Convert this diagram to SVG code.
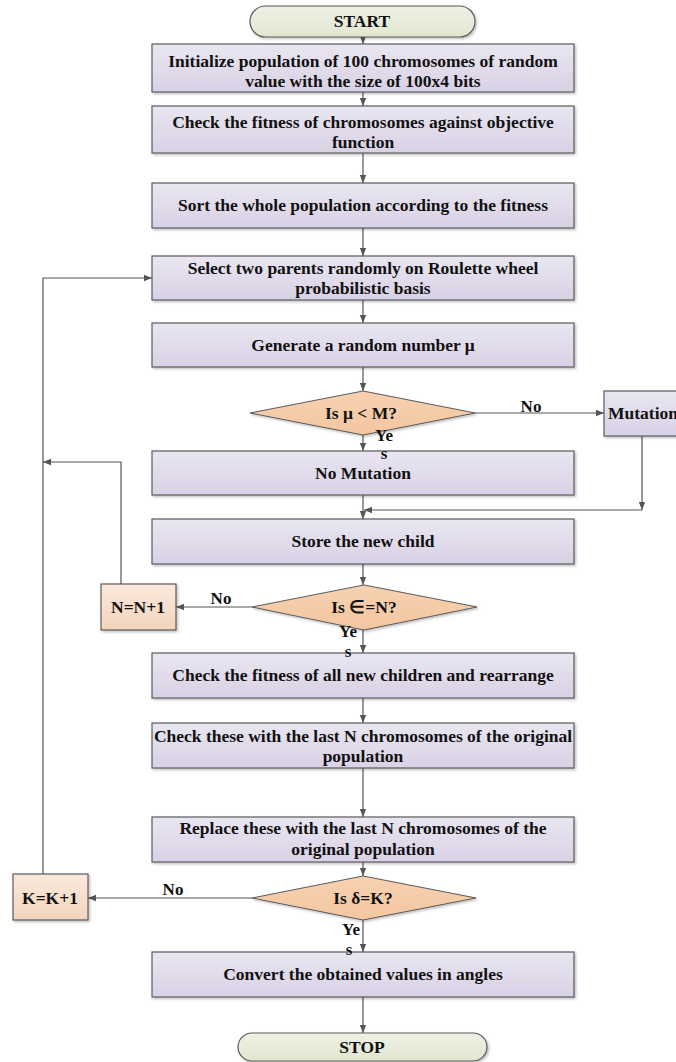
<svg xmlns="http://www.w3.org/2000/svg" width="676" height="1062" viewBox="0 0 676 1062">
<defs>
<linearGradient id="gBox" x1="0" y1="0" x2="0" y2="1"><stop offset="0" stop-color="#e9e6f1"/><stop offset="1" stop-color="#d9d1e5"/></linearGradient>
<linearGradient id="gDia" x1="0" y1="0" x2="0" y2="1"><stop offset="0" stop-color="#f7d2b1"/><stop offset="1" stop-color="#f3c6a0"/></linearGradient>
<linearGradient id="gInc" x1="0" y1="0" x2="0" y2="1"><stop offset="0" stop-color="#fbe9dc"/><stop offset="1" stop-color="#f3d4bc"/></linearGradient>
<linearGradient id="gTerm" x1="0" y1="0" x2="0" y2="1"><stop offset="0" stop-color="#eef1e4"/><stop offset="1" stop-color="#e1e6d0"/></linearGradient>
<filter id="sh" x="-5%" y="-10%" width="115%" height="130%"><feDropShadow dx="1.5" dy="1.5" stdDeviation="1" flood-color="#000" flood-opacity="0.25"/></filter>
<marker id="arr" viewBox="0 0 10 10" refX="10" refY="5" markerWidth="8" markerHeight="8" markerUnits="userSpaceOnUse" orient="auto"><path d="M0,1 L10,5 L0,9 Z" fill="#555"/></marker>
</defs>
<style>
.box{fill:url(#gBox);stroke:#5a5a5a;stroke-width:1.2;filter:url(#sh)}
.dia{fill:url(#gDia);stroke:#5a5a5a;stroke-width:1;filter:url(#sh)}
.inc{fill:url(#gInc);stroke:#5a5a5a;stroke-width:1.2;filter:url(#sh)}
.term{fill:url(#gTerm);stroke:#5a5a5a;stroke-width:1.2;filter:url(#sh)}
text{font-weight:bold;font-size:17.5px;fill:#111;text-anchor:middle}
.lab{font-size:17px}
.c{fill:none;stroke:#555;stroke-width:1.2;marker-end:url(#arr)}
</style>
<rect width="676" height="1062" fill="#fff"/>
<g font-family="'Liberation Serif', 'Times New Roman', serif">
<g id="connectors">
<path class="c" d="M363,37 V44"/>
<path class="c" d="M363,92 V106"/>
<path class="c" d="M363,153 V183"/>
<path class="c" d="M363,228 V256"/>
<path class="c" d="M363,300 V323"/>
<path class="c" d="M363,367 V391"/>
<path class="c" d="M363,435 V451"/>
<path class="c" d="M475,413 H604"/>
<path class="c" d="M642,436 V510"/>
<path class="c" d="M642,510 H364"/>
<path class="c" d="M363,495 V519"/>
<path class="c" d="M363,564 V585"/>
<path class="c" d="M252,607 H176"/>
<path class="c" d="M121,584 V462 H43"/>
<path class="c" d="M363,630 V653"/>
<path class="c" d="M363,698 V723"/>
<path class="c" d="M363,768 V817"/>
<path class="c" d="M363,862 V876"/>
<path class="c" d="M252,898 H88"/>
<path class="c" d="M43,874 V278 H152"/>
<path class="c" d="M363,920 V952"/>
<path class="c" d="M363,997 V1033"/>
</g>
<g id="start"><rect class="term" x="250" y="6" width="225" height="31" rx="15.5"/><text x="362" y="27">START</text></g>
<g id="init"><rect class="box" x="152" y="44" width="422" height="48"/><text x="363" y="67">Initialize population of 100 chromosomes of random</text><text x="363" y="87">value with the size of 100x4 bits</text></g>
<g id="fitness"><rect class="box" x="152" y="106" width="422" height="47"/><text x="363" y="128">Check the fitness of chromosomes against objective</text><text x="363" y="148">function</text></g>
<g id="sort"><rect class="box" x="152" y="183" width="422" height="45"/><text x="363" y="211">Sort the whole population according to the fitness</text></g>
<g id="select"><rect class="box" x="152" y="256" width="422" height="44"/><text x="363" y="274">Select two parents randomly on Roulette wheel</text><text x="363" y="294">probabilistic basis</text></g>
<g id="generate"><rect class="box" x="152" y="323" width="422" height="44"/><text x="363" y="351">Generate a random number μ</text></g>
<g id="dmu"><polygon class="dia" points="363,391 475,413 363,435 250,413"/><text x="361" y="419">Is μ &lt; M?</text></g>
<g id="mutation"><rect class="box" x="604" y="391" width="80" height="45"/><text x="643" y="419">Mutation</text></g>
<g id="nomutation"><rect class="box" x="152" y="451" width="422" height="44"/><text x="363" y="479">No Mutation</text></g>
<g id="store"><rect class="box" x="152" y="519" width="422" height="45"/><text x="363" y="547">Store the new child</text></g>
<g id="deps"><polygon class="dia" points="364,585 477,607 364,630 252,607"/><text x="364" y="613">Is ∈=N?</text></g>
<g id="ninc"><rect class="inc" x="101" y="584" width="75" height="46"/><text x="138" y="613">N=N+1</text></g>
<g id="checkall"><rect class="box" x="152" y="653" width="422" height="45"/><text x="363" y="681">Check the fitness of all new children and rearrange</text></g>
<g id="checkthese"><rect class="box" x="152" y="723" width="422" height="45"/><text x="363" y="742">Check these with the last N chromosomes of the original</text><text x="363" y="762">population</text></g>
<g id="replace"><rect class="box" x="152" y="817" width="422" height="45"/><text x="363" y="834">Replace these with the last N chromosomes of the</text><text x="363" y="855">original population</text></g>
<g id="ddelta"><polygon class="dia" points="363,876 476,898 363,920 252,898"/><text x="363" y="904">Is δ=K?</text></g>
<g id="kinc"><rect class="inc" x="13" y="874" width="75" height="46"/><text x="50" y="904">K=K+1</text></g>
<g id="convert"><rect class="box" x="152" y="952" width="422" height="45"/><text x="363" y="980">Convert the obtained values in angles</text></g>
<g id="stop"><rect class="term" x="238" y="1033" width="249" height="28" rx="14"/><text x="362" y="1053">STOP</text></g>
<g id="edge-labels">
<text class="lab" x="531" y="412">No</text>
<text class="lab" x="384" y="441">Ye</text>
<text class="lab" x="384" y="459">s</text>
<text class="lab" x="221" y="604">No</text>
<text class="lab" x="348" y="637">Ye</text>
<text class="lab" x="348" y="657">s</text>
<text class="lab" x="173" y="895">No</text>
<text class="lab" x="351" y="935">Ye</text>
<text class="lab" x="349" y="955">s</text>
</g>
</g>
</svg>
